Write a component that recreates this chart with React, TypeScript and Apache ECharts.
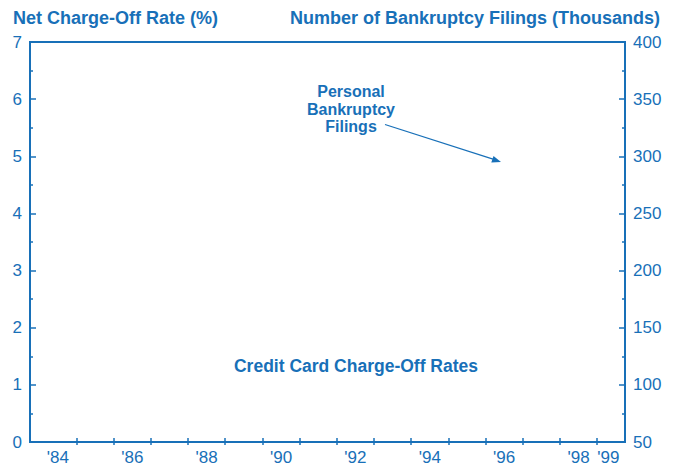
import React, { useEffect, useRef } from "react";
import * as echarts from "echarts";

// Axis ranges and ticks
const xMin = 1983.75;
const xMax = 1999.75;
const xTickYears = [1985, 1986, 1987, 1988, 1989, 1990, 1991, 1992, 1993, 1994, 1995, 1996, 1997, 1998, 1999];
const xLabelYears = [1984, 1986, 1988, 1990, 1992, 1994, 1996, 1998, 1999];
const leftMin = 0;
const leftMax = 7;
const leftStep = 1;
const rightMin = 50;
const rightMax = 400;
const rightStep = 50;

// Series (no visible data points in the reference)
const chargeOffRates: [number, number][] = [];
const bankruptcyFilings: [number, number][] = [];

// Texts
const leftTitle = "Net Charge-Off Rate (%)";
const rightTitle = "Number of Bankruptcy Filings (Thousands)";
const filingsLabel = "Personal\nBankruptcy\nFilings";
const chargeOffLabel = "Credit Card Charge-Off Rates";

const BLUE = "#1870b8";
const FONT = "'Liberation Sans', Arial, Helvetica, sans-serif";

export default function App() {
  const ref = useRef<HTMLDivElement>(null);
  useEffect(() => {
    if (!ref.current) return;
    const chart = echarts.init(ref.current, undefined, { renderer: "svg" });
    const labelPositions = xLabelYears.map((y, i) =>
      i === xLabelYears.length - 1 ? y + 0.3 : y + 0.5
    );
    const fmtYear = (v: number) => "'" + String(Math.floor(v + 1e-6)).slice(2);
    chart.setOption({
      animation: false,
      backgroundColor: "#ffffff",
      textStyle: { fontFamily: FONT },
      grid: {
        left: 30,
        right: 50,
        top: 42,
        bottom: 24,
        show: true,
        borderColor: BLUE,
        borderWidth: 2,
        backgroundColor: "transparent",
      },
      xAxis: [
        {
          type: "value",
          position: "bottom",
          min: xMin,
          max: xMax,
          axisLine: { show: true, onZero: false, lineStyle: { color: BLUE, width: 2 } },
          axisTick: {
            show: true,
            inside: true,
            length: 4,
            customValues: xTickYears,
            lineStyle: { color: BLUE, width: 1.5 },
          },
          axisLabel: {
            show: true,
            customValues: labelPositions,
            formatter: (v: number) => fmtYear(v),
            color: BLUE,
            fontSize: 17,
            fontFamily: FONT,
            margin: 7,
            showMinLabel: true,
            showMaxLabel: true,
          },
          splitLine: { show: false },
        },
        {
          type: "value",
          position: "bottom",
          min: xMin,
          max: xMax,
          axisLine: { show: false, onZero: false },
          axisTick: {
            show: true,
            inside: false,
            length: 3,
            customValues: xTickYears,
            lineStyle: { color: BLUE, width: 1.5 },
          },
          axisLabel: { show: false },
          splitLine: { show: false },
        },
      ],
      yAxis: [
        {
          type: "value",
          position: "left",
          min: leftMin,
          max: leftMax,
          interval: leftStep,
          axisLine: { show: true, onZero: false, lineStyle: { color: BLUE, width: 2 } },
          axisTick: { show: true, inside: true, length: 6, lineStyle: { color: BLUE, width: 1.5 } },
          minorTick: { show: true, splitNumber: 2, length: 3, lineStyle: { color: BLUE, width: 1.5 } },
          axisLabel: { color: BLUE, fontSize: 17, fontFamily: FONT, margin: 8 },
          splitLine: { show: false },
        },
        {
          type: "value",
          position: "right",
          min: rightMin,
          max: rightMax,
          interval: rightStep,
          axisLine: { show: true, onZero: false, lineStyle: { color: BLUE, width: 2 } },
          axisTick: { show: true, inside: true, length: 6, lineStyle: { color: BLUE, width: 1.5 } },
          minorTick: { show: true, splitNumber: 2, length: 3, lineStyle: { color: BLUE, width: 1.5 } },
          axisLabel: { color: BLUE, fontSize: 17, fontFamily: FONT, margin: 8 },
          splitLine: { show: false },
        },
      ],
      series: [
        {
          name: chargeOffLabel,
          type: "line",
          xAxisIndex: 0,
          yAxisIndex: 0,
          data: chargeOffRates,
          showSymbol: false,
          lineStyle: { color: BLUE, width: 2 },
        },
        {
          name: "Personal Bankruptcy Filings",
          type: "line",
          xAxisIndex: 0,
          yAxisIndex: 1,
          data: bankruptcyFilings,
          showSymbol: false,
          lineStyle: { color: BLUE, width: 2 },
        },
      ],
      graphic: [
        {
          type: "text",
          left: 13,
          top: 9,
          style: {
            text: leftTitle,
            fill: BLUE,
            font: `bold 18px ${FONT}`,
          },
        },
        {
          type: "text",
          right: 15,
          top: 9,
          style: {
            text: rightTitle,
            fill: BLUE,
            font: `bold 18px ${FONT}`,
          },
        },
        {
          type: "text",
          x: 351,
          y: 109,
          style: {
            text: filingsLabel,
            fill: BLUE,
            font: `bold 16px ${FONT}`,
            lineHeight: 17.5,
            align: "center",
            verticalAlign: "middle",
          },
        },
        {
          type: "text",
          x: 356,
          y: 366,
          style: {
            text: chargeOffLabel,
            fill: BLUE,
            font: `bold 17.5px ${FONT}`,
            align: "center",
            verticalAlign: "middle",
          },
        },
        {
          type: "line",
          shape: { x1: 385, y1: 124.5, x2: 493, y2: 159.2 },
          style: { stroke: BLUE, lineWidth: 1.3 },
        },
        {
          type: "polygon",
          shape: { points: [[501, 162], [491.3, 162.5], [493.5, 155.9]] },
          style: { fill: BLUE },
        },
      ],
    });
    return () => chart.dispose();
  }, []);
  return (
    <div
      ref={ref}
      style={{ position: "fixed", left: 0, top: 0, width: 675, height: 466 }}
    />
  );
}
